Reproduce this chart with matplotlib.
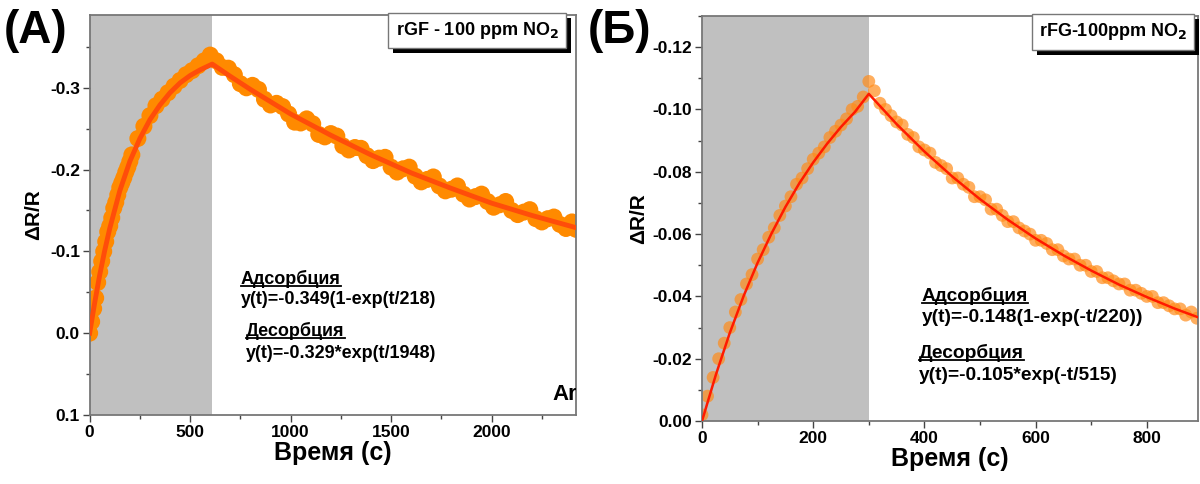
import matplotlib
matplotlib.use("Agg")
import matplotlib.pyplot as plt
from matplotlib.lines import Line2D
from matplotlib.patches import Rectangle
from matplotlib.ticker import MultipleLocator, FormatStrFormatter

plt.rcParams['font.family'] = ['Liberation Sans', 'DejaVu Sans']
plt.rcParams['font.weight'] = 'bold'
plt.rcParams['axes.unicode_minus'] = False

# ---- panel A: rGF - 100 ppm NO2 ----
a_t = list(range(0, 2401, 30)) + [2420]
a_y = [0.000, -0.043, -0.088, -0.124, -0.153, -0.178, -0.197, -0.218, -0.238, -0.253,
       -0.266, -0.278, -0.286, -0.294, -0.302, -0.309, -0.316, -0.321, -0.327, -0.333,
       -0.340, -0.333, -0.325, -0.324, -0.316, -0.305, -0.300, -0.303, -0.298, -0.286,
       -0.279, -0.281, -0.277, -0.268, -0.258, -0.257, -0.262, -0.256, -0.243, -0.240,
       -0.244, -0.241, -0.229, -0.224, -0.227, -0.226, -0.217, -0.211, -0.214, -0.215,
       -0.203, -0.197, -0.201, -0.203, -0.192, -0.185, -0.188, -0.191, -0.180, -0.174,
       -0.176, -0.180, -0.170, -0.164, -0.167, -0.170, -0.161, -0.154, -0.157, -0.161,
       -0.150, -0.145, -0.148, -0.151, -0.140, -0.136, -0.140, -0.142, -0.133, -0.128,
       -0.136, -0.127]
# extra early readings (steep rise)
a_t2 = [10, 20, 40, 50, 70, 80, 100, 110, 130, 140, 160, 170, 190, 200]
a_y2 = [-0.014, -0.030, -0.062, -0.075, -0.100, -0.112, -0.131, -0.141, -0.160, -0.169,
        -0.184, -0.190, -0.203, -0.210]
a_fit_t = [0, 25, 50, 75, 100, 150, 200, 250, 300, 350, 400, 450, 500, 550, 610,
           700, 800, 1000, 1200, 1400, 1600, 1800, 2000, 2200, 2420]
a_fit_y = [0.0, -0.037, -0.071, -0.101, -0.128, -0.174, -0.210, -0.238, -0.261, -0.279,
           -0.294, -0.306, -0.315, -0.322, -0.329, -0.314, -0.298, -0.268, -0.242, -0.218,
           -0.196, -0.177, -0.159, -0.144, -0.129]
a_gas_end = 610

# ---- panel B: rFG-100ppm NO2 ----
b_t = list(range(0, 891, 10))
b_y = [-0.002, -0.008, -0.014, -0.020, -0.025, -0.030, -0.035, -0.039, -0.044, -0.047,
       -0.052, -0.055, -0.059, -0.062, -0.066, -0.069, -0.072, -0.076, -0.078, -0.081,
       -0.084, -0.086, -0.088, -0.091, -0.093, -0.095, -0.097, -0.100, -0.101, -0.104,
       -0.109, -0.106, -0.102, -0.100, -0.098, -0.096, -0.095, -0.092, -0.091, -0.088,
       -0.087, -0.086, -0.083, -0.082, -0.081, -0.078, -0.078, -0.076, -0.075, -0.072,
       -0.072, -0.071, -0.068, -0.068, -0.066, -0.064, -0.064, -0.062, -0.061, -0.060,
       -0.058, -0.058, -0.057, -0.055, -0.055, -0.053, -0.052, -0.052, -0.050, -0.050,
       -0.048, -0.048, -0.046, -0.046, -0.045, -0.044, -0.044, -0.042, -0.042, -0.041,
       -0.040, -0.040, -0.038, -0.038, -0.037, -0.036, -0.036, -0.034, -0.035, -0.033]
b_fit_t = [0, 25, 50, 75, 100, 125, 150, 175, 200, 225, 250, 275, 300,
           350, 400, 450, 500, 550, 600, 650, 700, 750, 800, 850, 900]
b_fit_y = [0.0, -0.0149, -0.0283, -0.0402, -0.0508, -0.0602, -0.0687, -0.0763, -0.0830,
           -0.0890, -0.0944, -0.0992, -0.1050, -0.0953, -0.0865, -0.0785, -0.0712, -0.0646,
           -0.0586, -0.0532, -0.0483, -0.0438, -0.0398, -0.0361, -0.0328]
b_gas_end = 300

W, H = 1200, 484
fig = plt.figure(figsize=(12, 4.84), dpi=100)
ax1 = fig.add_axes([0.0747, 0.1426, 0.4053, 0.8264])
ax2 = fig.add_axes([0.585, 0.130, 0.4133, 0.837])

spine_col = '#777777'


def style_axes(ax):
    for s in ax.spines.values():
        s.set_color(spine_col)
        s.set_linewidth(1.3)
    ax.tick_params(which='both', direction='out', color='#444444', labelsize=12.5,
                   width=1.0, pad=2)
    ax.tick_params(which='major', length=5)
    ax.tick_params(which='minor', length=3)
    for lab in ax.get_xticklabels() + ax.get_yticklabels():
        lab.set_fontweight('bold')


# panel A
ax1.axvspan(0, a_gas_end, color='#c0c0c0', lw=0, zorder=0)
ax1.scatter(a_t, a_y, s=150, color='#ff8a00', edgecolors='none', zorder=2)
ax1.scatter(a_t2, a_y2, s=150, color='#ff8a00', edgecolors='none', zorder=2)
ax1.plot(a_fit_t, a_fit_y, color='#ff4d0a', lw=3.5, zorder=3)
ax1.set_xlim(0, 2420)
ax1.set_ylim(0.1, -0.389)
ax1.xaxis.set_major_locator(MultipleLocator(500))
ax1.xaxis.set_minor_locator(MultipleLocator(250))
ax1.yaxis.set_major_locator(MultipleLocator(0.1))
ax1.yaxis.set_minor_locator(MultipleLocator(0.05))
ax1.yaxis.set_major_formatter(FormatStrFormatter('%.1f'))
style_axes(ax1)
ax1.set_xlabel('Время (с)', fontsize=18, fontweight='bold', labelpad=1)
ax1.set_ylabel('ΔR/R', fontsize=15, fontweight='bold', labelpad=5)
ax1.text(2305, 0.075, 'Ar', fontsize=16, fontweight='bold', ha='left', va='center',
         clip_on=True)

# panel B
ax2.axvspan(0, b_gas_end, color='#c0c0c0', lw=0, zorder=0)
ax2.scatter(b_t, b_y, s=85, color='#ff8c1a', alpha=0.7, edgecolors='none', zorder=2)
ax2.plot(b_fit_t, b_fit_y, color='#ff1a00', lw=1.8, zorder=3)
ax2.set_xlim(0, 892)
ax2.set_ylim(0.0, -0.13)
ax2.xaxis.set_major_locator(MultipleLocator(200))
ax2.xaxis.set_minor_locator(MultipleLocator(100))
ax2.yaxis.set_major_locator(MultipleLocator(0.02))
ax2.yaxis.set_minor_locator(MultipleLocator(0.01))
ax2.yaxis.set_major_formatter(FormatStrFormatter('%.2f'))
style_axes(ax2)
ax2.set_xlabel('Время (с)', fontsize=18, fontweight='bold', labelpad=1)
ax2.set_ylabel('ΔR/R', fontsize=15, fontweight='bold', labelpad=3)

# panel letters
fig.text(0.003, 0.936, '(А)', fontsize=33, fontweight='heavy', va='center', ha='left')
fig.text(0.490, 0.936, '(Б)', fontsize=33, fontweight='heavy', va='center', ha='left')

# gas label boxes with a dark drop shadow
boxes = []
for x, y, txt in [(0.3975, 0.937, 'rGF - 100 ppm NO$_\\mathbf{2}$'),
                  (0.9275, 0.934, 'rFG-100ppm NO$_\\mathbf{2}$')]:
    t = fig.text(x, y, txt, fontsize=13, fontweight='bold', color='k',
                 ha='center', va='center',
                 bbox=dict(boxstyle='square,pad=0.4', fc='white', ec='#777777', lw=1),
                 zorder=11)
    boxes.append(t)

# fit annotations
notes = [
    (241, 279, 'Адсорбция', True, 13),
    (241, 299, 'y(t)=-0.349(1-exp(t/218)', False, 13),
    (246, 331, 'Десорбция', True, 13),
    (246, 353, 'y(t)=-0.329*exp(t/1948)', False, 13),
    (922, 296, 'Адсорбция', True, 13.8),
    (922, 317, 'y(t)=-0.148(1-exp(-t/220))', False, 13.8),
    (919, 353, 'Десорбция', True, 13.8),
    (919, 376, 'y(t)=-0.105*exp(-t/515)', False, 13.8),
]
texts = []
for px, py, s, ul, fs in notes:
    t = fig.text(px / W, 1 - py / H, s, fontsize=fs, fontweight='bold',
                 ha='left', va='center')
    texts.append((t, ul))

fig.canvas.draw()
renderer = fig.canvas.get_renderer()
for t, ul in texts:
    if not ul:
        continue
    bb = t.get_window_extent(renderer)
    yy = (bb.y0 + 2) / H
    fig.add_artist(Line2D([bb.x0 / W, bb.x1 / W], [yy, yy], color='k', lw=1.3,
                          transform=fig.transFigure))

for t in boxes:
    bb = t.get_bbox_patch().get_window_extent(renderer)
    fig.add_artist(Rectangle(((bb.x0 + 5) / W, (bb.y0 - 5) / H), bb.width / W, bb.height / H,
                             transform=fig.transFigure, fc='k', ec='none', zorder=10))

fig.savefig('out.png', dpi=100)
